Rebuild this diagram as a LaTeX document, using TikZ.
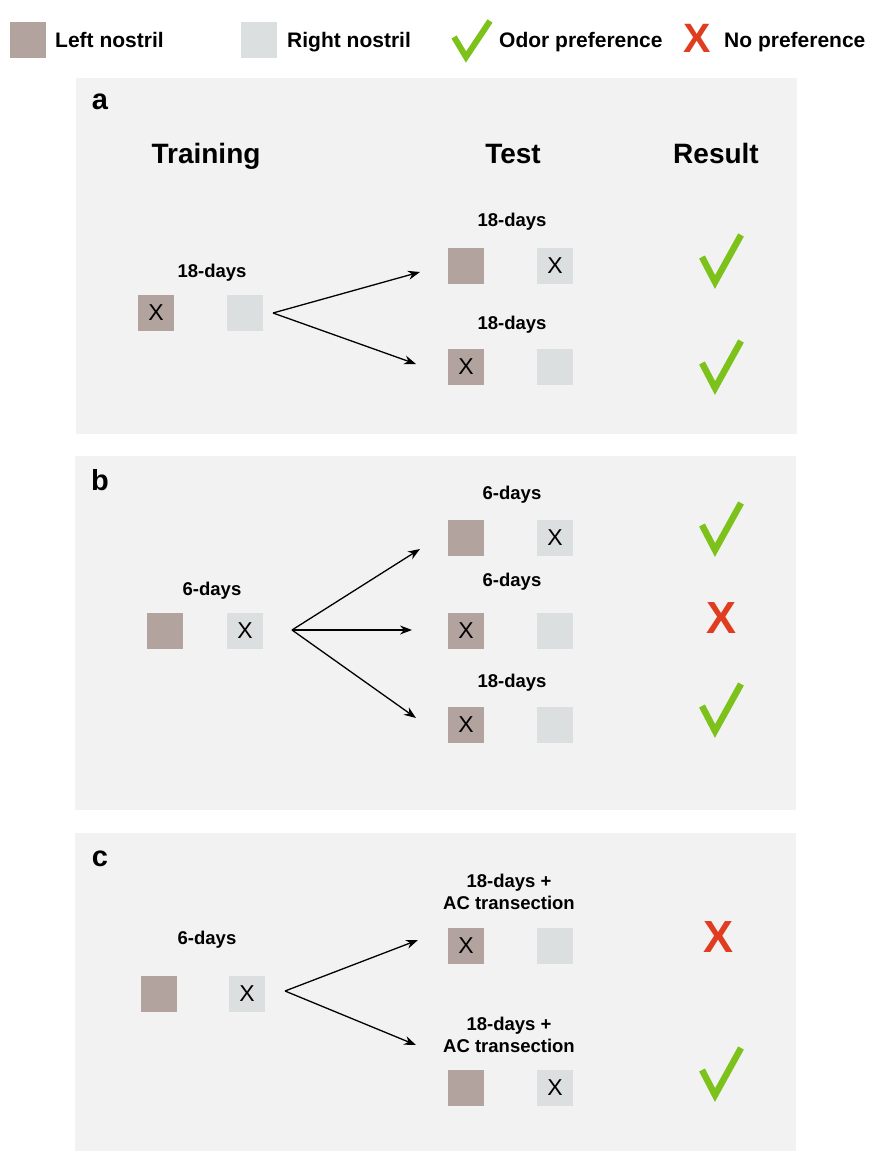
\documentclass[tikz,border=0pt]{standalone}
\usepackage{fontspec}
\setmainfont{Liberation Sans}
\usetikzlibrary{arrows.meta}

\definecolor{leftcol}{HTML}{B2A39F}
\definecolor{rightcol}{HTML}{DBDFDF}
\definecolor{panelcol}{HTML}{F2F2F2}
\definecolor{okcol}{HTML}{7DC21B}
\definecolor{nocol}{HTML}{E03C1F}

\tikzset{
  lnos/.style={minimum size=36pt,inner sep=0pt,fill=leftcol,font=\fontsize{23}{23}\selectfont},
  rnos/.style={minimum size=36pt,inner sep=0pt,fill=rightcol,font=\fontsize{23}{23}\selectfont},
  legtxt/.style={anchor=base west,inner sep=0pt,font=\bfseries\fontsize{21}{21}\selectfont},
  hd/.style={anchor=base,font=\bfseries\fontsize{28}{28}\selectfont},
  lbl/.style={inner sep=0pt,font=\bfseries\fontsize{18.5}{18.5}\selectfont},
  tag/.style={inner sep=0pt,font=\bfseries\fontsize{29}{29}\selectfont},
  nopref/.style={inner sep=0pt,text=nocol,font=\bfseries\fontsize{45}{45}\selectfont},
  chk/.style={draw=okcol,line width=6.5pt,miter limit=10},
  pnl/.style={fill=panelcol},
  arr/.style={-{Stealth[length=12pt,width=9pt]},line width=1.3pt}
}

\newcommand{\okmark}[1]{%
  \draw[chk] ([shift={(-18,-3)}]#1) -- ([shift={(-5,22)}]#1) -- ([shift={(21,-25)}]#1);}

\begin{document}
\begin{tikzpicture}[x=1pt,y=-1pt]
\useasboundingbox (0,0) rectangle (875,1153);

% legend
\node[lnos] (kl) at (28,40) {};
\node[legtxt] (klt) at (55,48) {Left nostril};
\node[rnos] (kr) at (259,40) {};
\node[legtxt] (krt) at (287,48) {Right nostril};
\draw[chk,line width=6pt] (454,37) -- (466,57) -- (490,21);
\node[legtxt] (kokt) at (499,48) {Odor preference};
\node[nopref,font=\bfseries\fontsize{41}{41}\selectfont] (kno) at (697,38) {X};
\node[legtxt] (knot) at (724,48) {No preference};

% panels
\fill[pnl] (76,78) rectangle (797,434);
\fill[pnl] (75,456) rectangle (796,810);
\fill[pnl] (75,833) rectangle (796,1151);

% panel a
\node[tag] (pa) at (100,102) {a};
\node[hd] (htrain) at (206,163) {Training};
\node[hd] (htest) at (513,163) {Test};
\node[hd] (hres) at (716,163) {Result};

\node[lbl] (atl) at (212,273) {18-days};
\node[lnos] (atL) at (156,313) {X};
\node[rnos] (atR) at (245,313) {};
\coordinate (asrc) at (273,313);

\node[lbl] (a1l) at (512,222) {18-days};
\node[lnos] (a1L) at (466,266) {};
\node[rnos] (a1R) at (555,266) {X};
\node[lbl] (a2l) at (512,325) {18-days};
\node[lnos] (a2L) at (466,367) {X};
\node[rnos] (a2R) at (555,367) {};
\coordinate (a1e) at (420,272);
\coordinate (a2e) at (416,364);
\draw[arr] (asrc) -- (a1e);
\draw[arr] (asrc) -- (a2e);

\coordinate (a1r) at (720,260);
\coordinate (a2r) at (720,366);
\okmark{a1r}
\okmark{a2r}

% panel b
\node[tag] (pb) at (100,480) {b};
\node[lbl] (btl) at (212,591) {6-days};
\node[lnos] (btL) at (165,631) {};
\node[rnos] (btR) at (245,631) {X};
\coordinate (bsrc) at (292,630);

\node[lbl] (b1l) at (512,495) {6-days};
\node[lnos] (b1L) at (466,538) {};
\node[rnos] (b1R) at (555,538) {X};
\node[lbl] (b2l) at (512,582) {6-days};
\node[lnos] (b2L) at (466,631) {X};
\node[rnos] (b2R) at (555,631) {};
\node[lbl] (b3l) at (512,683) {18-days};
\node[lnos] (b3L) at (466,725) {X};
\node[rnos] (b3R) at (555,725) {};
\coordinate (b1e) at (420,549);
\coordinate (b2e) at (412,630);
\coordinate (b3e) at (416,718);
\draw[arr] (bsrc) -- (b1e);
\draw[arr] (bsrc) -- (b2e);
\draw[arr] (bsrc) -- (b3e);

\coordinate (b1r) at (720,528);
\node[nopref] (b2r) at (721,618) {X};
\coordinate (b3r) at (720,709);
\okmark{b1r}
\okmark{b3r}

% panel c
\node[tag] (pc) at (100,859) {c};
\node[lbl] (ctl) at (207,940) {6-days};
\node[lnos] (ctL) at (159,994) {};
\node[rnos] (ctR) at (247,994) {X};
\coordinate (csrc) at (285,991);

\node[lbl,align=center] (c1l) at (509,892) {18-days +\\[4pt]AC transection};
\node[lnos] (c1L) at (466,946) {X};
\node[rnos] (c1R) at (555,946) {};
\node[lbl,align=center] (c2l) at (509,1035) {18-days +\\[4pt]AC transection};
\node[lnos] (c2L) at (466,1088) {};
\node[rnos] (c2R) at (555,1088) {X};
\coordinate (c1e) at (418,940);
\coordinate (c2e) at (416,1045);
\draw[arr] (csrc) -- (c1e);
\draw[arr] (csrc) -- (c2e);

\node[nopref] (c1r) at (718,937) {X};
\coordinate (c2r) at (720,1073);
\okmark{c2r}
\end{tikzpicture}
\end{document}
